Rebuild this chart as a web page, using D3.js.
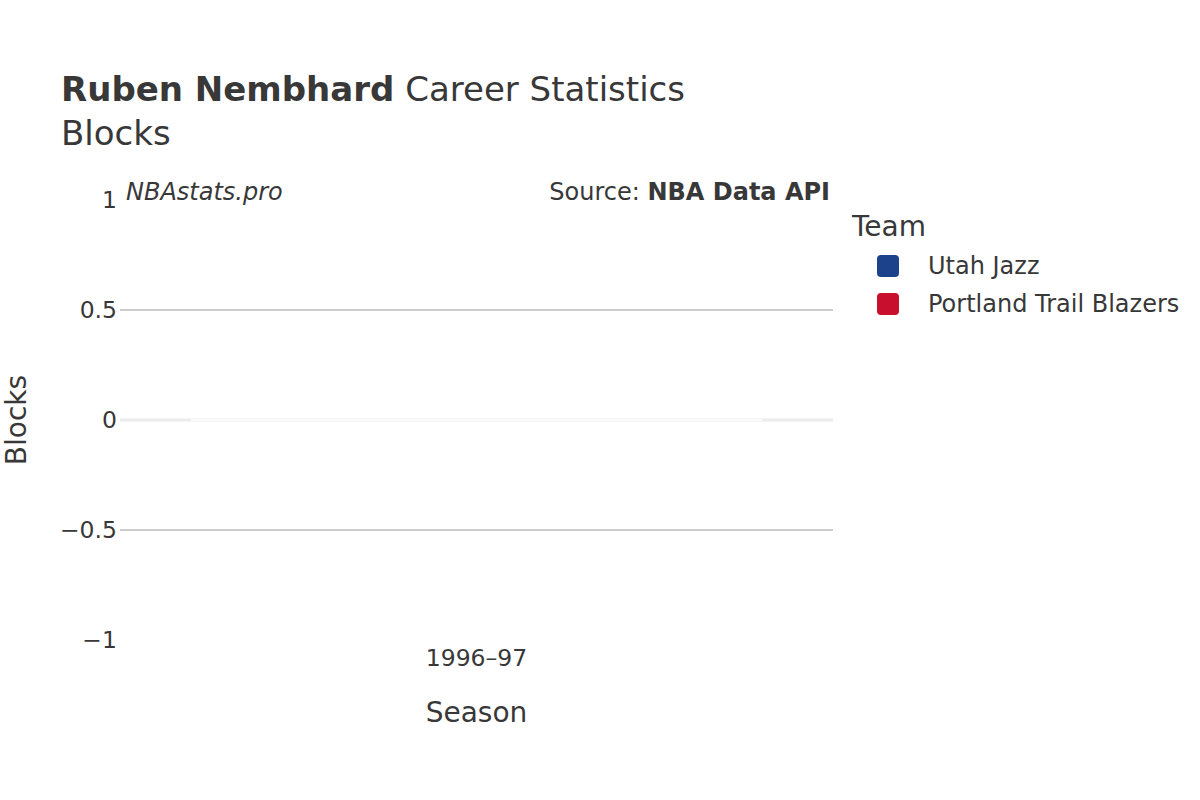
<!DOCTYPE html>
<html>
<head>
<meta charset="utf-8">
<script src="https://cdn.jsdelivr.net/npm/d3@7"></script>
<style>
  body { margin: 0; background: #fff; }
  text { font-family: "DejaVu Sans", sans-serif; fill: #383838; }
</style>
</head>
<body>
<div id="chart"></div>
<script>
const seasons = ['1996–97']
const teams = ['Utah Jazz', 'Portland Trail Blazers']
const teamColors = ['#1b428a', '#c8102e']
const blocks = [[0], [0]]
const yTicks = [-1, -0.5, 0, 0.5, 1]

const width = 1200
const height = 800
const margin = { top: 200, right: 367, bottom: 160, left: 120 }

const svg = d3.select('#chart')
  .append('svg')
  .attr('width', width)
  .attr('height', height)
  .attr('viewBox', [0, 0, width, height])

const xScale = d3.scaleBand()
  .domain(seasons)
  .range([margin.left, width - margin.right])
  .paddingInner(0.2)
  .paddingOuter(0.1)

const xInner = d3.scaleBand()
  .domain(teams)
  .range([0, xScale.bandwidth()])

const yScale = d3.scaleLinear()
  .domain([-1, 1])
  .range([height - margin.bottom, margin.top])

// grid lines
svg.append('g')
  .selectAll('line')
  .data(yTicks.filter(d => Math.abs(d) !== 1))
  .join('line')
  .attr('x1', margin.left)
  .attr('x2', width - margin.right)
  .attr('y1', d => yScale(d))
  .attr('y2', d => yScale(d))
  .attr('stroke', d => d === 0 ? '#ebebeb' : '#bdbdbd')
  .attr('stroke-width', d => d === 0 ? 3 : 1.3)

// bars (all zero height here)
const rows = []
teams.forEach((t, i) => seasons.forEach((s, j) => rows.push({ team: t, season: s, value: blocks[i][j], color: teamColors[i] })))

svg.append('g')
  .selectAll('rect')
  .data(rows)
  .join('rect')
  .attr('x', d => xScale(d.season) + xInner(d.team))
  .attr('y', d => Math.min(yScale(d.value), yScale(0)) - 0.5)
  .attr('width', xInner.bandwidth())
  .attr('height', d => Math.abs(yScale(d.value) - yScale(0)) + 1)
  .attr('fill', d => d.color)
  .attr('fill-opacity', 0)
  .attr('stroke', '#fafafa')
  .attr('stroke-width', 1)

// y axis labels
const yAxis = g => g
  .attr('transform', `translate(${margin.left},0)`)
  .call(d3.axisLeft(yScale).tickValues(yTicks).tickSize(0).tickPadding(3)
    .tickFormat(d => d3.format('')(d).replace('-', '\u2212')))
  .call(g => g.select('.domain').remove())
  .call(g => g.selectAll('text').attr('font-size', 23.5).attr('fill', '#383838').style('font-family', '"DejaVu Sans", sans-serif'))

const xAxis = g => g
  .attr('transform', `translate(0,${height - margin.bottom})`)
  .call(d3.axisBottom(xScale).tickSize(0).tickPadding(9))
  .call(g => g.select('.domain').remove())
  .call(g => g.selectAll('text').attr('font-size', 23.5).attr('fill', '#383838').style('font-family', '"DejaVu Sans", sans-serif'))

svg.append('g').call(yAxis)
svg.append('g').call(xAxis)

// axis titles
svg.append('text')
  .attr('x', (margin.left + width - margin.right) / 2)
  .attr('y', 722)
  .attr('text-anchor', 'middle')
  .attr('font-size', 28)
  .text('Season')

svg.append('text')
  .attr('transform', `translate(26,${yScale(0)}) rotate(-90)`)
  .attr('text-anchor', 'middle')
  .attr('font-size', 28)
  .text('Blocks')

// titles
const title = svg.append('text')
  .attr('x', 61)
  .attr('y', 101)
  .attr('font-size', 34)
title.append('tspan').attr('font-weight', 'bold').text('Ruben Nembhard')
title.append('tspan').text(' Career Statistics')

svg.append('text')
  .attr('x', 61)
  .attr('y', 145)
  .attr('font-size', 34)
  .text('Blocks')

svg.append('text')
  .attr('x', 126)
  .attr('y', 200)
  .attr('font-size', 24)
  .attr('font-style', 'italic')
  .text('NBAstats.pro')

const source = svg.append('text')
  .attr('x', 830)
  .attr('y', 200)
  .attr('text-anchor', 'end')
  .attr('font-size', 24)
source.append('tspan').text('Source: ')
source.append('tspan').attr('font-weight', 'bold').text('NBA Data API')

// legend
const legend = svg.append('g').attr('transform', 'translate(852,0)')
legend.append('text')
  .attr('x', 0)
  .attr('y', 236)
  .attr('font-size', 28)
  .text('Team')

const items = legend.selectAll('g.item')
  .data(teams)
  .join('g')
  .attr('class', 'item')
  .attr('transform', (d, i) => `translate(0,${266 + i * 38})`)

items.append('rect')
  .attr('x', 25)
  .attr('y', -11)
  .attr('width', 22)
  .attr('height', 22)
  .attr('rx', 4)
  .attr('fill', (d, i) => teamColors[i])

items.append('text')
  .attr('x', 76)
  .attr('y', 8)
  .attr('font-size', 24)
  .text(d => d)
</script>
</body>
</html>
